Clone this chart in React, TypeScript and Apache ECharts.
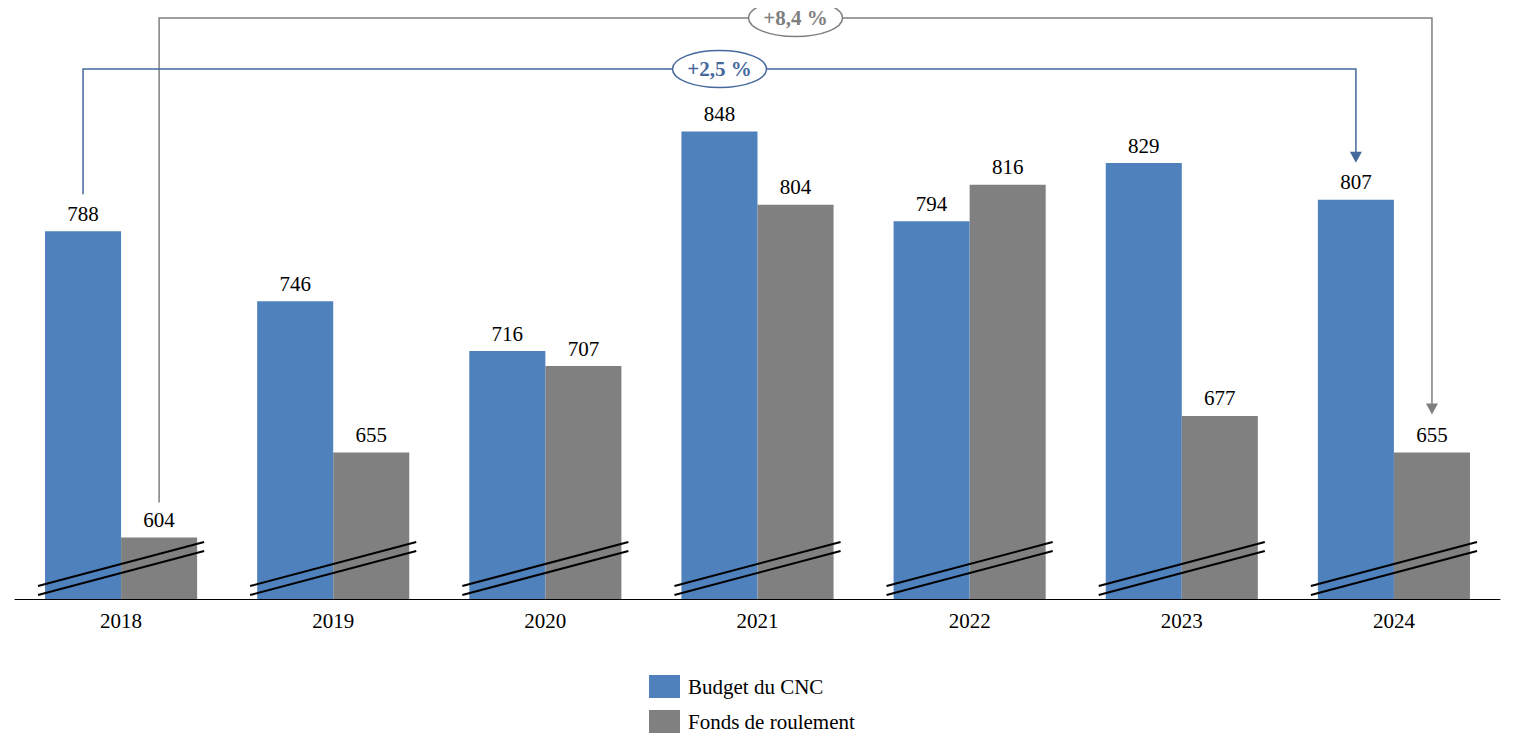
import React, { useEffect, useRef } from "react";
import * as echarts from "echarts";

const years = ["2018", "2019", "2020", "2021", "2022", "2023", "2024"];
const budgetCNC = [788, 746, 716, 848, 794, 829, 807];
const fondsRoulement = [604, 655, 707, 804, 816, 677, 655];
const seriesNames = ["Budget du CNC", "Fonds de roulement"];
const blueGrowth = "+2,5 %";
const grayGrowth = "+8,4 %";
const axisMin = 567;
const axisMax = 915;

const FONT = "'Liberation Serif', 'DejaVu Serif', serif";
const BLUE = "#4F81BD";
const GRAY = "#808080";
const LINE_BLUE = "#46699c";
const LINE_GRAY = "#7f7f7f";
const CAT_GAP = 0.283;

export default function App() {
  const ref = useRef<HTMLDivElement>(null);

  useEffect(() => {
    if (!ref.current) return;
    const chart = echarts.init(ref.current, null, { renderer: "svg" });
    const labelStyle = {
      show: true,
      position: "top",
      distance: 7,
      color: "#000",
      fontSize: 21,
      fontFamily: FONT,
    };
    chart.setOption({
      animation: false,
      grid: { left: 15, right: 13, top: 20, bottom: 150, containLabel: false },
      legend: {
        orient: "vertical",
        left: 649,
        top: 675,
        padding: 0,
        itemWidth: 31,
        itemHeight: 23,
        itemGap: 12,
        icon: "rect",
        selectedMode: false,
        textStyle: { fontSize: 21, fontFamily: FONT, color: "#000", padding: [0, 0, 0, 3] },
        data: seriesNames,
      },
      xAxis: {
        type: "category",
        data: years,
        axisLine: { show: true, lineStyle: { color: "#000", width: 1 } },
        axisTick: { show: false },
        axisLabel: { color: "#000", fontSize: 21, fontFamily: FONT, margin: 11 },
      },
      yAxis: {
        type: "value",
        min: axisMin,
        max: axisMax,
        show: false,
        splitLine: { show: false },
      },
      series: [
        {
          name: seriesNames[0],
          type: "bar",
          data: budgetCNC,
          itemStyle: { color: BLUE },
          barGap: "0%",
          barCategoryGap: CAT_GAP * 100 + "%",
          label: labelStyle,
        },
        {
          name: seriesNames[1],
          type: "bar",
          data: fondsRoulement,
          itemStyle: { color: GRAY },
          barGap: "0%",
          barCategoryGap: CAT_GAP * 100 + "%",
          label: labelStyle,
        },
        {
          name: "breaks",
          type: "custom",
          silent: true,
          clip: false,
          z: 10,
          data: years.map((_, i) => [i, axisMin]),
          renderItem: (params: any, api: any) => {
            const c = api.coord([api.value(0), api.value(1)]);
            const band = api.size([1, 0])[0];
            const half = (band * (1 - CAT_GAP)) / 2;
            const x1 = c[0] - half - 7;
            const x2 = c[0] + half + 7;
            const base = c[1];
            const style = { stroke: "#000", lineWidth: 2 };
            return {
              type: "group",
              children: [
                { type: "line", shape: { x1, y1: base - 13, x2, y2: base - 57 }, style },
                { type: "line", shape: { x1, y1: base - 4, x2, y2: base - 48 }, style },
              ],
            };
          },
        },
      ],
    });

    const layout = (si: number, di: number) => {
      const l = (chart as any).getModel().getSeriesByIndex(si).getData().getItemLayout(di);
      const top = Math.min(l.y, l.y + l.height);
      return { cx: l.x + l.width / 2, top };
    };

    const elements: any[] = [];

    const connector = (si: number, levelY: number, color: string, text: string, off1: number, off2: number) => {
      const last = years.length - 1;
      const a = layout(si, 0);
      const z = layout(si, last);
      const yStart = a.top - off1;
      const yEnd = z.top - off2;
      elements.push({
        type: "polyline",
        shape: {
          points: [
            [a.cx, yStart],
            [a.cx, levelY],
            [z.cx, levelY],
            [z.cx, yEnd - 10],
          ],
        },
        style: { stroke: color, lineWidth: 1.5, fill: null },
        z: 90,
      });
      elements.push({
        type: "polygon",
        shape: {
          points: [
            [z.cx - 6, yEnd - 11],
            [z.cx + 6, yEnd - 11],
            [z.cx, yEnd],
          ],
        },
        style: { fill: color },
        z: 90,
      });
      const mx = (a.cx + z.cx) / 2;
      elements.push({
        type: "ellipse",
        shape: { cx: mx, cy: levelY, rx: 47, ry: 18.5 },
        style: { fill: "#fff", stroke: color, lineWidth: 1.5 },
        z: 95,
      });
      elements.push({
        type: "text",
        x: mx,
        y: levelY,
        style: {
          text,
          fill: color,
          font: `bold 21px ${FONT}`,
          align: "center",
          verticalAlign: "middle",
        },
        z: 96,
      });
    };

    connector(1, 18, LINE_GRAY, grayGrowth, 35, 38);
    connector(0, 69, LINE_BLUE, blueGrowth, 37, 37);

    chart.setOption({ graphic: { elements } });

    return () => chart.dispose();
  }, []);

  return <div ref={ref} style={{ width: 1513, height: 749, margin: -8 }} />;
}
